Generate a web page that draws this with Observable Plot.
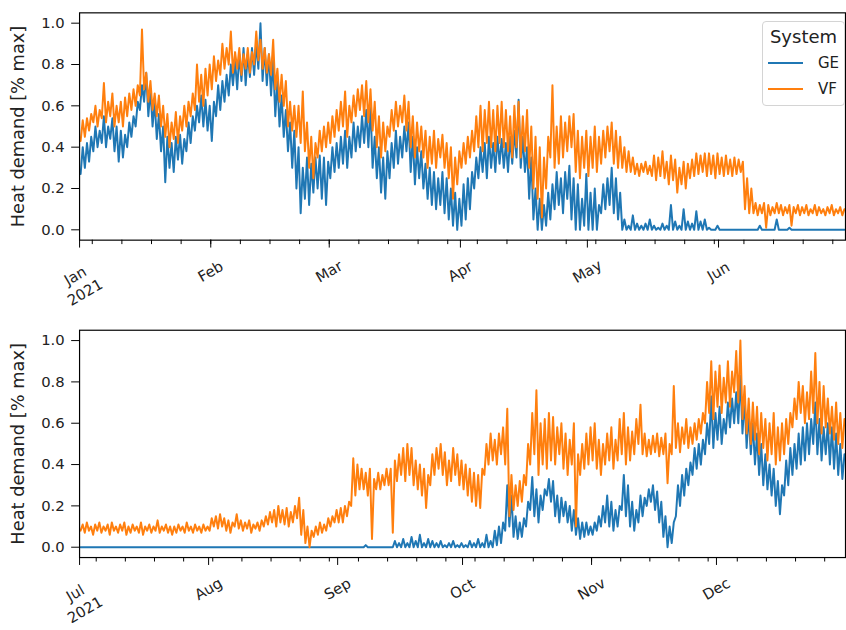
<!DOCTYPE html>
<html><head><meta charset="utf-8">
<script src="https://cdn.jsdelivr.net/npm/d3@7"></script>
<script src="https://cdn.jsdelivr.net/npm/@observablehq/plot@0.6"></script>
<style>
html,body{margin:0;padding:0;overflow:hidden;background:#fff;}
#wrap{position:relative;width:846px;height:630px;overflow:hidden;}
#wrap svg{display:block;}
.legend{position:absolute;left:762px;top:21px;width:81px;height:83px;border:1px solid #d4d4d4;border-radius:4px;background:rgba(255,255,255,0.8);font-family:"DejaVu Sans";color:#222;}
.legend .title{position:absolute;left:0;top:4px;width:100%;text-align:center;font-size:18px;line-height:22px;}
.legend .sw{position:absolute;left:5px;width:35px;height:2px;}
.legend .lb{position:absolute;left:55px;font-size:15px;line-height:18px;}
</style>
</head><body>
<div id="wrap"></div>
<script>
// ---- data: daily [low, high] pairs of heat demand (fraction of max) ----
const systems = ["GE", "VF"];
const colors = ["#1f77b4", "#ff7f0e"];
const yTicks = [0, 0.2, 0.4, 0.6, 0.8, 1.0];
const monthsH1 = ["Jan\n2021", "Feb", "Mar", "Apr", "May", "Jun"];
const monthsH2 = ["Jul\n2021", "Aug", "Sep", "Oct", "Nov", "Dec"];

const geJan = [.27,.40,.30,.42,.33,.45,.38,.50,.40,.48,.42,.55,.40,.50,.44,.54,.38,.50,.33,.48,
.35,.46,.40,.52,.45,.55,.50,.62,.58,.70,.62,.76,.55,.68,.50,.62,.44,.56,.38,.50,
.23,.45,.30,.42,.28,.45,.34,.46,.32,.44,.38,.52,.42,.55,.48,.60,.52,.65,.50,.63,
.48,.60];
const geFeb = [.43,.62,.55,.70,.58,.72,.62,.75,.65,.80,.70,.82,.68,.85,.72,.88,.70,.85,.74,.88,
.75,.90,.78,1.0,.72,.88,.70,.85,.65,.82,.55,.72,.50,.65,.45,.58,.38,.52,.30,.48,
.20,.40,.08,.30,.15,.35,.12,.32,.18,.35,.20,.36,.15,.35,.12,.33];
const geMar = [.25,.40,.28,.42,.30,.45,.32,.48,.30,.45,.35,.52,.38,.50,.40,.55,.42,.58,.40,.60,
.30,.45,.25,.40,.18,.35,.15,.38,.25,.42,.30,.48,.32,.45,.35,.50,.38,.52,.28,.45,
.22,.40,.25,.38,.20,.32,.15,.30,.12,.28,.10,.25,.12,.28,.08,.25,.05,.20,.02,.18,
.00,.15];
const geApr = [.02,.22,.05,.25,.10,.28,.20,.35,.25,.40,.28,.42,.25,.45,.30,.42,.28,.45,.32,.44,
.30,.42,.28,.45,.32,.48,.35,.63,.30,.45,.28,.40,.15,.35,.05,.20,.00,.15,.00,.12,
.02,.18,.05,.22,.10,.28,.12,.25,.08,.28,.15,.31,.05,.25,.00,.22,.00,.15,.02,.27];
const geMay = [.00,.18,.00,.20,.00,.12,.08,.22,.10,.25,.12,.30,.08,.25,.05,.18,.00,.05,.00,.02,
.00,.07,.00,.03,.00,.02,.00,.03,.00,.05,.00,.02,.00,.01,.00,.03,.00,.02,.00,.12,
.00,.04,.00,.02,.00,.10,.00,.04,.00,.03,.00,.09,.00,.04,.00,.05,.00,.01,.00,.00,
.00,.02];
const geJun = [.00,.00,.00,.00,.00,.00,.00,.00,.00,.00,.00,.00,.00,.00,.00,.00,.00,.00,.00,.02,
.00,.00,.00,.00,.00,.00,.00,.05,.00,.00,.00,.00,.00,.01,.00,.00,.00,.00,.00,.00,
.00,.00,.00,.00,.00,.00,.00,.00,.00,.00,.00,.00,.00,.00,.00,.00,.00,.00,.00,.00];

const vfJan = [.43,.53,.45,.54,.48,.56,.52,.60,.50,.58,.54,.71,.52,.62,.55,.66,.50,.60,.52,.62,
.50,.64,.55,.66,.58,.68,.60,.70,.65,.97,.68,.76,.62,.72,.58,.66,.55,.65,.50,.60,
.45,.56,.40,.52,.44,.57,.42,.55,.48,.60,.50,.62,.55,.66,.58,.80,.62,.75,.60,.78,
.65,.80];
const vfFeb = [.68,.84,.72,.82,.75,.90,.78,.88,.80,.96,.76,.86,.78,.88,.75,.85,.78,.88,.76,.86,
.80,.96,.82,.92,.78,.88,.76,.85,.75,.92,.68,.78,.62,.75,.60,.72,.50,.62,.48,.60,
.45,.60,.42,.67,.38,.52,.30,.45,.25,.42,.35,.48,.38,.50,.40,.52];
const vfMar = [.42,.55,.45,.58,.48,.62,.50,.67,.45,.60,.52,.65,.55,.68,.58,.70,.55,.72,.52,.68,
.48,.62,.40,.55,.35,.52,.38,.50,.45,.58,.48,.62,.50,.60,.52,.65,.48,.62,.40,.55,
.35,.52,.38,.50,.35,.48,.30,.45,.32,.48,.30,.44,.35,.46,.30,.42,.25,.40,.15,.35,
.22,.38];
const vfApr = [.30,.42,.32,.45,.35,.48,.38,.55,.40,.60,.38,.58,.42,.62,.40,.58,.38,.60,.42,.62,
.40,.58,.38,.55,.35,.60,.40,.62,.35,.55,.38,.58,.30,.50,.20,.45,.15,.40,.06,.35,
.20,.45,.35,.70,.30,.50,.32,.55,.35,.52,.38,.55,.40,.56,.28,.48,.25,.45,.30,.48];
const vfMay = [.26,.45,.30,.50,.28,.45,.32,.48,.35,.50,.38,.52,.32,.48,.30,.45,.30,.40,.28,.38,
.28,.35,.27,.32,.26,.32,.28,.33,.27,.31,.26,.36,.24,.35,.26,.38,.25,.33,.22,.36,
.24,.34,.18,.30,.22,.33,.20,.32,.25,.34,.26,.37,.27,.36,.28,.37,.26,.37,.27,.36,
.25,.37];
const vfJun = [.27,.35,.26,.36,.27,.34,.26,.35,.27,.34,.28,.33,.10,.25,.08,.20,.08,.13,.07,.12,
.08,.13,.01,.12,.07,.11,.08,.13,.08,.12,.07,.11,.08,.12,.02,.11,.08,.12,.07,.11,
.08,.12,.07,.10,.08,.12,.07,.11,.08,.10,.07,.11,.08,.12,.07,.10,.08,.11,.07,.10];

const geJul = [.00,.00,.00,.00,.00,.00,.00,.00,.00,.00,.00,.00,.00,.00,.00,.00,.00,.00,.00,.00,
.00,.00,.00,.00,.00,.00,.00,.00,.00,.00,.00,.00,.00,.00,.00,.00,.00,.00,.00,.00,
.00,.00,.00,.00,.00,.00,.00,.00,.00,.00,.00,.00,.00,.00,.00,.00,.00,.00,.00,.00,
.00,.00];
const geAug = [.00,.00,.00,.00,.00,.00,.00,.00,.00,.00,.00,.00,.00,.00,.00,.00,.00,.00,.00,.00,
.00,.00,.00,.00,.00,.00,.00,.00,.00,.00,.00,.00,.00,.00,.00,.00,.00,.00,.00,.00,
.00,.00,.00,.00,.00,.00,.00,.00,.00,.00,.00,.00,.00,.00,.00,.00,.00,.00,.00,.00,
.00,.00];
const geSep = [.00,.00,.00,.00,.00,.00,.00,.00,.00,.00,.00,.00,.00,.01,.00,.00,.00,.00,.00,.00,
.00,.00,.00,.00,.00,.00,.00,.03,.00,.02,.00,.04,.00,.02,.00,.05,.00,.03,.00,.06,
.00,.02,.00,.04,.00,.03,.00,.02,.00,.03,.00,.01,.00,.02,.00,.03,.00,.01,.00,.02];
const geOct = [.00,.01,.00,.03,.00,.02,.00,.04,.00,.02,.00,.06,.00,.03,.00,.08,.01,.10,.02,.12,
.08,.30,.10,.25,.05,.15,.04,.12,.05,.14,.10,.22,.18,.34,.15,.28,.12,.25,.18,.28,
.25,.33,.22,.32,.15,.25,.12,.24,.15,.22,.12,.20,.08,.18,.06,.14,.04,.12,.05,.12,
.06,.10];
const geNov = [.06,.12,.08,.15,.10,.20,.12,.25,.10,.22,.08,.18,.10,.20,.18,.35,.15,.30,.10,.22,
.08,.18,.12,.25,.15,.24,.20,.28,.22,.30,.18,.27,.12,.22,.05,.15,.00,.10,.02,.12,
.15,.30,.20,.35,.25,.38,.30,.41,.35,.48,.38,.50,.40,.52,.45,.60,.50,.73,.48,.65];
const geDec = [.52,.68,.50,.62,.55,.70,.58,.72,.60,.75,.60,.83,.55,.72,.48,.65,.45,.60,.40,.55,
.35,.50,.30,.45,.28,.40,.25,.38,.20,.32,.16,.30,.25,.42,.30,.48,.35,.50,.38,.55,
.40,.58,.42,.60,.45,.62,.50,.70,.45,.62,.42,.58,.45,.60,.40,.58,.38,.55,.35,.50,
.33,.45];

const vfJul = [.08,.11,.07,.12,.08,.10,.06,.11,.08,.12,.07,.10,.08,.11,.06,.12,.08,.10,.07,.11,
.08,.12,.06,.10,.07,.11,.08,.10,.07,.12,.06,.10,.08,.11,.07,.10,.08,.13,.07,.10,
.08,.11,.07,.10,.06,.10,.07,.11,.08,.10,.07,.12,.08,.10,.07,.11,.08,.10,.07,.11,
.08,.10];
const vfAug = [.08,.14,.10,.15,.09,.16,.10,.14,.08,.13,.07,.12,.10,.16,.09,.13,.08,.12,.09,.13,
.07,.11,.09,.12,.08,.13,.10,.15,.11,.17,.12,.18,.10,.20,.12,.18,.11,.19,.10,.17,
.12,.20,.14,.24,.06,.18,.02,.10,.00,.08,.05,.10,.06,.12,.07,.11,.08,.14,.10,.15,
.12,.18];
const vfSep = [.12,.19,.12,.20,.15,.22,.20,.43,.25,.40,.28,.38,.28,.36,.25,.38,.04,.33,.28,.36,
.28,.35,.30,.38,.30,.38,.07,.42,.32,.45,.35,.48,.32,.50,.35,.48,.30,.42,.28,.40,
.25,.38,.19,.35,.30,.45,.35,.48,.38,.50,.35,.46,.30,.42,.32,.48,.35,.45,.30,.42];
const vfOct = [.28,.40,.25,.38,.22,.36,.20,.35,.19,.38,.35,.50,.40,.55,.42,.52,.40,.55,.45,.58,
.40,.67,.15,.35,.18,.30,.20,.32,.22,.35,.30,.50,.40,.65,.45,.76,.35,.60,.40,.62,
.38,.65,.42,.63,.40,.58,.45,.60,.38,.55,.35,.52,.40,.60,.10,.45,.35,.50,.38,.55,
.40,.58];
const vfNov = [.42,.60,.38,.52,.35,.50,.40,.55,.42,.58,.38,.52,.42,.62,.45,.65,.40,.58,.42,.56,
.45,.62,.50,.69,.45,.55,.44,.52,.45,.54,.46,.55,.44,.53,.45,.55,.31,.50,.45,.78,
.48,.60,.46,.58,.50,.62,.48,.58,.50,.60,.52,.62,.55,.65,.60,.80,.65,.90,.62,.85];
const vfDec = [.68,.88,.65,.82,.70,.90,.68,.85,.75,.95,.70,1.0,.62,.78,.55,.72,.50,.70,.52,.68,
.45,.65,.48,.62,.42,.60,.45,.65,.40,.58,.42,.60,.45,.62,.50,.65,.58,.72,.62,.80,
.65,.78,.60,.75,.62,.85,.65,.94,.60,.80,.55,.78,.58,.72,.55,.68,.52,.70,.50,.65,
.48,.62];

// ---- build tables ----
const DAY = 864e5;
function build(pairs, start) {
  const out = [];
  for (let i = 0; i + 1 < pairs.length; i += 2) {
    const d = i / 2;
    out.push({t: new Date(start.getTime() + (d + 0.25) * DAY), v: pairs[i]});
    out.push({t: new Date(start.getTime() + (d + 0.75) * DAY), v: pairs[i + 1]});
  }
  return out;
}
const s1 = new Date(Date.UTC(2021, 0, 1)), e1 = new Date(Date.UTC(2021, 6, 1));
const s2 = new Date(Date.UTC(2021, 6, 1)), e2 = new Date(Date.UTC(2022, 0, 1));
const ge1 = build([...geJan, ...geFeb, ...geMar, ...geApr, ...geMay, ...geJun], s1);
const vf1 = build([...vfJan, ...vfFeb, ...vfMar, ...vfApr, ...vfMay, ...vfJun], s1);
const ge2 = build([...geJul, ...geAug, ...geSep, ...geOct, ...geNov, ...geDec], s2);
const vf2 = build([...vfJul, ...vfAug, ...vfSep, ...vfOct, ...vfNov, ...vfDec], s2);

function panel({ge, vf, start, end, labels, height, marginTop, marginBottom}) {
  const months = d3.utcMonth.range(start, end);
  const mondays = d3.utcMonday.range(start, end);
  const lab = months.map((m, i) => ({t: m, s: labels[i]}));
  return Plot.plot({
    width: 856, height, marginLeft: 80, marginRight: 1, marginTop, marginBottom,
    style: {fontFamily: "DejaVu Sans", fontSize: "15px", color: "#222", background: "white", overflow: "hidden"},
    x: {type: "utc", domain: [start, end]},
    y: {domain: [-0.05, 1.05]},
    marks: [
      Plot.lineY(ge, {x: "t", y: "v", stroke: colors[0], strokeWidth: 2}),
      Plot.lineY(vf, {x: "t", y: "v", stroke: colors[1], strokeWidth: 2}),
      Plot.frame({stroke: "#000", strokeWidth: 1.2}),
      Plot.axisY({ticks: yTicks, tickFormat: d3.format(".1f"), tickSize: 8, tickPadding: 7, label: null, fontSize: 15, stroke: "#000"}),
      Plot.axisX({ticks: mondays, tickSize: 4.5, tickFormat: () => "", label: null, stroke: "#000"}),
      Plot.axisX({ticks: months, tickSize: 8, tickFormat: () => "", label: null, stroke: "#000"}),
      Plot.text(lab.slice(0, 1), {x: "t", text: "s", frameAnchor: "bottom", dy: 43.5, rotate: -30, lineHeight: 1.3, fontSize: 15, textAnchor: "middle", lineAnchor: "middle"}),
      Plot.text(lab.slice(1), {x: "t", text: "s", frameAnchor: "bottom", dy: 32, rotate: -30, fontSize: 15, textAnchor: "middle", lineAnchor: "middle"}),
      Plot.text(["Heat demand [% max]"], {frameAnchor: "left", dx: -62, rotate: -90, fontSize: 18, textAnchor: "middle", lineAnchor: "middle"})
    ]
  });
}

const wrap = document.getElementById("wrap");
wrap.appendChild(panel({ge: ge1, vf: vf1, start: s1, end: e1, labels: monthsH1, height: 312, marginTop: 12.5, marginBottom: 69.5}));
wrap.appendChild(panel({ge: ge2, vf: vf2, start: s2, end: e2, labels: monthsH2, height: 318, marginTop: 22, marginBottom: 66}));

const leg = document.createElement("div");
leg.className = "legend";
leg.innerHTML = `<div class="title">System</div>` +
  systems.map((s, i) => `<div class="sw" style="top:${40 + 26 * i}px;background:${colors[i]}"></div><div class="lb" style="top:${32 + 26 * i}px">${s}</div>`).join("");
wrap.appendChild(leg);
</script>
</body></html>
